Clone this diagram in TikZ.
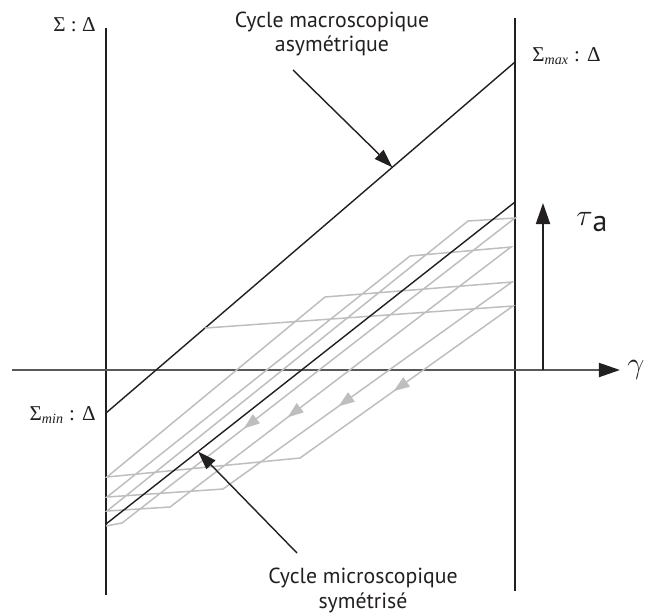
\documentclass[tikz,border=0pt]{standalone}
\usepackage{fontspec}
\setmainfont{Liberation Serif}
\newfontfamily\labelfont{PT Sans}
\usetikzlibrary{arrows.meta,calc,decorations.markings}
\definecolor{ink}{HTML}{231F20}
\definecolor{axisgrey}{HTML}{58595B}
\definecolor{loopgrey}{HTML}{BCBEC0}

\begin{document}
\begin{tikzpicture}[
  x=0.02cm, y=-0.02cm,
  frame/.style={draw=ink, line width=1.1pt},
  axis/.style={draw=axisgrey, line width=1.1pt, -{Triangle[length=12pt, width=8pt, color=ink]}},
  bound/.style={draw=ink, line width=0.8pt},
  loopline/.style={draw=loopgrey, line width=0.85pt},
  pointer/.style={draw=ink, line width=0.8pt, -{Triangle[length=10.5pt, width=7pt]}},
  lab/.style={font=\labelfont\fontsize{12.4}{14.2}\selectfont, align=center, text=ink},
  sym/.style={font=\fontsize{12}{14}\selectfont, text=ink, inner sep=0pt},
  big/.style={font=\fontsize{18}{20}\selectfont, text=ink, inner sep=0pt},
]
\useasboundingbox (0,0) rectangle (651,615);

% frame: two verticals, strain axis, shift arrow
\draw[frame] (106,28) -- (106,595);
\draw[frame] (515,18) -- (515,591);
\node[big, anchor=west] (gamma) at (627,370) {$\gamma$};
\draw[axis, shorten >=4pt] (12,370) -- (gamma.west);
\coordinate (tau0) at (543,370);
\node[big, anchor=west] (tau) at (576,222) {$\tau${\labelfont\fontsize{17}{19}\selectfont\raisebox{-0.4ex}{a}}};
\draw[frame, -{Triangle[length=12pt, width=8pt]}] (tau0) -- (543,203);

% bounds of the macroscopic and the symmetrised cycle
\coordinate (smin) at (106,413);
\coordinate (smax) at (515,62);
\coordinate (mlo) at (106,524);
\coordinate (mhi) at (515,202);
\draw[bound] (smin) -- (smax);

% microscopic loops (one path, running down to the lower bound)
\coordinate (tl1) at ($(smin)!0.242!(smax)$);
\coordinate (tr1) at (513,306);
\coordinate (br1) at (300,458);
\coordinate (bl1) at (107,477);
\coordinate (tl2) at (325,297);
\coordinate (tr2) at (512,282);
\coordinate (br2) at (223,489);
\coordinate (bl2) at (107,497);
\coordinate (tl3) at (410,256);
\coordinate (tr3) at (511,247);
\coordinate (br3) at (170,507);
\coordinate (bl3) at (107,511);
\coordinate (tl4) at (468,221);
\coordinate (tr4) at (515,218);
\coordinate (br4) at (122,523);
\coordinate (bl4) at (106,526);
\draw[loopline] (tl1) -- (tr1) -- (br1) -- (bl1) -- (tl2) -- (tr2) -- (br2) -- (bl2)
  -- (tl3) -- (tr3) -- (br3) -- (bl3) -- (tl4) -- (tr4) -- (br4) -- (bl4);
\foreach \u/\v/\p in {tr1/br1/0.56, tr2/br2/0.6, tr3/br3/0.655, tr4/br4/0.69}
  \path[decorate, decoration={markings,
    mark=at position \p with {\arrow{Triangle[length=9pt, width=6.5pt, color=loopgrey]}}}] (\u) -- (\v);
\draw[bound] (mlo) -- (mhi);

% labels on the bounds
\node[sym, anchor=east] (sig) at (96,25) {Σ : Δ};
\node[sym, anchor=west] (sigmax) at (532,56) {Σ\textsubscript{\itshape max} : Δ};
\node[sym, anchor=east] (sigmin) at (96,415) {Σ\textsubscript{\itshape min} : Δ};

% callouts
\node[lab] (macro) at (332,34) {Cycle macroscopique\\asymétrique};
\coordinate (macrofrom) at (293,70);
\draw[pointer] (macrofrom) -- ($(smin)!0.70!(smax)$);
\node[lab] (micro) at (363,590) {Cycle microscopique\\symétrisé};
\coordinate (microfrom) at (297,553);
\draw[pointer] (microfrom) -- ($(mlo)!0.225!(mhi)$);
\end{tikzpicture}
\end{document}
